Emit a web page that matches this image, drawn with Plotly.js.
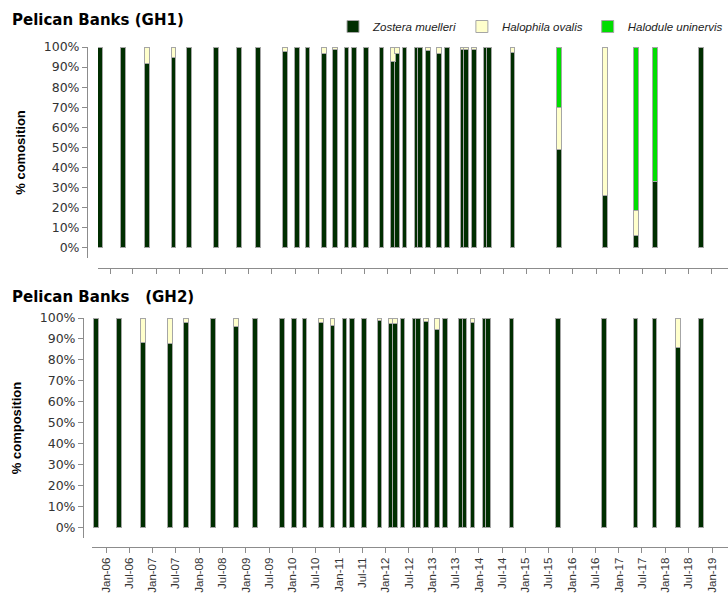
<!DOCTYPE html>
<html>
<head>
<meta charset="utf-8">
<script src="https://cdn.plot.ly/plotly-3.0.1.min.js"></script>
<style>
html,body{margin:0;padding:0;background:#fff;}
#chart{width:728px;height:598px;}
</style>
</head>
<body>
<div id="chart"></div>
<script>
// ---- data ----
var speciesNames = ["Zostera muelleri", "Halophila ovalis", "Halodule uninervis"];
var speciesColors = ["#002e00", "#ffffcc", "#00dd00"];

var gh1Dates = ["2005-10-15","2006-04-13","2006-10-19","2007-05-15","2007-09-18","2008-04-17",
  "2008-10-15","2009-03-13","2009-10-12","2010-01-14","2010-04-06","2010-08-14","2010-11-09",
  "2011-02-11","2011-04-11","2011-07-14","2011-11-13","2012-02-11","2012-03-14","2012-05-12",
  "2012-08-18","2012-09-11","2012-11-13","2013-02-07","2013-04-11","2013-08-15","2013-09-08",
  "2013-11-10","2014-02-12","2014-03-11","2014-09-12","2015-09-12","2016-09-08","2017-05-10",
  "2017-10-07","2018-10-08"];
var gh1Zostera   = [100,100,92,95,100,100,100,100,98,100,100,97,99,100,100,100,100,93,97,100,100,100,98.5,97,100,99,99,99,100,100,97.5,49,26,6,33,100];
var gh1Halophila = [0,0,8,5,0,0,0,0,2,0,0,3,1,0,0,0,0,7,3,0,0,0,1.5,3,0,1,1,1,0,0,2.5,21,74,12.5,0,0];
var gh1Halodule  = [0,0,0,0,0,0,0,0,0,0,0,0,0,0,0,0,0,0,0,0,0,0,0,0,0,0,0,0,0,0,0,30,0,81.5,67,0];

var gh2Dates = ["2005-10-15","2006-04-13","2006-10-19","2007-05-15","2007-09-18","2008-04-17",
  "2008-10-15","2009-03-13","2009-10-12","2010-01-14","2010-04-06","2010-08-14","2010-11-09",
  "2011-02-11","2011-04-11","2011-07-14","2011-11-13","2012-02-11","2012-03-14","2012-05-12",
  "2012-08-18","2012-09-11","2012-11-13","2013-02-07","2013-04-11","2013-08-15","2013-09-08",
  "2013-11-10","2014-02-12","2014-03-11","2014-09-12","2015-09-12","2016-09-08","2017-05-10",
  "2017-10-07","2018-04-09","2018-10-08"];
var gh2Zostera   = [100,100,88.4,88,98,100,96,100,100,100,100,98,96.5,100,100,100,99,97.5,97.5,100,100,100,98.5,94.4,100,100,100,98,100,100,100,100,100,100,100,86,100];
var gh2Halophila = [0,0,11.6,12,2,0,4,0,0,0,0,2,3.5,0,0,0,1,2.5,2.5,0,0,0,1.5,5.6,0,0,0,2,0,0,0,0,0,0,0,14,0];
var gh2Halodule  = [0,0,0,0,0,0,0,0,0,0,0,0,0,0,0,0,0,0,0,0,0,0,0,0,0,0,0,0,0,0,0,0,0,0,0,0,0];

var panelTitles = ["Pelican Banks (GH1)", "Pelican Banks\u00a0\u00a0 (GH2)"];
var yTitles = ["% comosition", "% composition"];
var yTickVals = [0,10,20,30,40,50,60,70,80,90,100];
var yTickText = ["0%","10%","20%","30%","40%","50%","60%","70%","80%","90%","100%"];

// ---- traces ----
var DAY = 86400000;
var barW = 36 * DAY;
function mk(dates, vals, i, xa, ya, showLeg) {
  return {
    type: "bar", x: dates, y: vals, name: "<i>" + speciesNames[i] + "</i>",
    xaxis: xa, yaxis: ya, showlegend: showLeg, legendgroup: "s" + i,
    width: dates.map(function(){return barW;}),
    marker: {color: speciesColors[i], line: {color: "#a6a6a6", width: 1}},
    hoverinfo: "x+y"
  };
}
var traces = [
  mk(gh1Dates, gh1Zostera, 0, "x", "y", true),
  mk(gh1Dates, gh1Halophila, 1, "x", "y", true),
  mk(gh1Dates, gh1Halodule, 2, "x", "y", true),
  mk(gh2Dates, gh2Zostera, 0, "x2", "y2", false),
  mk(gh2Dates, gh2Halophila, 1, "x2", "y2", false),
  mk(gh2Dates, gh2Halodule, 2, "x2", "y2", false)
];

var W = 728, H = 598;
function px(v){return v / W;}
function py(v){return 1 - v / H;}

var tickFont = {family: "DejaVu Sans, Liberation Sans, Arial", size: 12.5, color: "#333"};
var axisCommon = {
  showgrid: false, zeroline: false, showline: true, linecolor: "#8c8c8c", linewidth: 1,
  ticks: "outside", ticklen: 5, tickcolor: "#8c8c8c"
};
function yax(pos, d0, d1, title) {
  return Object.assign({}, axisCommon, {
    anchor: "free", position: pos, domain: [d0, d1], range: [-5, 100],
    tickmode: "array", tickvals: yTickVals, ticktext: yTickText, tickfont: tickFont,
    title: {text: title, font: {family: "Liberation Sans, Arial", size: 13, color: "#000", weight: "bold"}, standoff: 14}
  });
}
function xax(pos, d0, r0, r1, labels) {
  return Object.assign({}, axisCommon, {
    type: "date", anchor: "free", position: pos, domain: [d0, 1], range: [r0, r1],
    tick0: "2006-01-01", dtick: "M6", tickformat: "%b-%y", tickangle: -90,
    showticklabels: labels,
    tickfont: {family: "Liberation Sans, Arial", size: 11.5, color: "#333"}
  });
}

var layout = {
  width: W, height: H, margin: {l: 0, r: 0, t: 0, b: 0},
  paper_bgcolor: "#fff", plot_bgcolor: "rgba(0,0,0,0)",
  barmode: "stack", bargap: 0,
  xaxis: xax(py(268), px(98), "2005-09-28", "2019-05-08", false),
  yaxis: yax(px(87), py(258), py(47), yTitles[0]),
  xaxis2: xax(py(547), px(92), "2005-09-13", "2019-05-06", true),
  yaxis2: yax(px(83), py(538), py(318), yTitles[1]),
  legend: {
    orientation: "h", x: 1, xanchor: "right", y: py(12), yanchor: "top",
    font: {family: "Liberation Sans, Arial", size: 11.5, color: "#222"},
    itemwidth: 30, tracegroupgap: 0, bgcolor: "rgba(0,0,0,0)"
  },
  annotations: [
    {text: "<b>" + panelTitles[0] + "</b>", xref: "paper", yref: "paper", x: px(10), y: py(20),
     xanchor: "left", yanchor: "middle", showarrow: false,
     font: {family: "DejaVu Sans, Arial", size: 15, color: "#000"}},
    {text: "<b>" + panelTitles[1] + "</b>", xref: "paper", yref: "paper", x: px(10), y: py(297),
     xanchor: "left", yanchor: "middle", showarrow: false,
     font: {family: "DejaVu Sans, Arial", size: 15, color: "#000"}}
  ]
};

Plotly.newPlot("chart", traces, layout, {staticPlot: true, displayModeBar: false});
</script>
</body>
</html>
